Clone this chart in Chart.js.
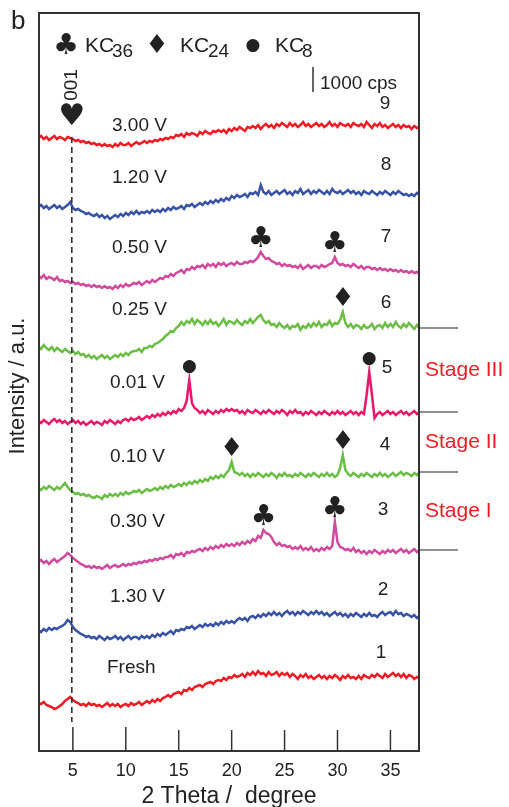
<!DOCTYPE html>
<html>
<head>
<meta charset="utf-8">
<script src="https://cdn.jsdelivr.net/npm/chart.js@4"></script>
<style>
  body { margin: 0; background: #fff; }
  canvas { display: block; }
</style>
</head>
<body>
<canvas id="xrd" width="509" height="807" style="width:509px;height:807px"></canvas>
<script>
// 2 theta grid (degree)
const twoTheta = [1.75,
  2,2.25,2.5,2.75, 3,3.25,3.5,3.75, 4,4.25,4.5,4.75, 5,5.25,5.5,5.75, 6,6.25,6.5,6.75,
  7,7.25,7.5,7.75, 8,8.25,8.5,8.75, 9,9.25,9.5,9.75, 10,10.25,10.5,10.75, 11,11.25,11.5,11.75,
  12,12.25,12.5,12.75, 13,13.25,13.5,13.75, 14,14.25,14.5,14.75, 15,15.25,15.5,15.75, 16,16.25,16.5,16.75,
  17,17.25,17.5,17.75, 18,18.25,18.5,18.75, 19,19.25,19.5,19.75, 20,20.25,20.5,20.75, 21,21.25,21.5,21.75,
  22,22.25,22.5,22.75, 23,23.25,23.5,23.75, 24,24.25,24.5,24.75, 25,25.25,25.5,25.75, 26,26.25,26.5,26.75,
  27,27.25,27.5,27.75, 28,28.25,28.5,28.75, 29,29.25,29.5,29.75, 30,30.25,30.5,30.75, 31,31.25,31.5,31.75,
  32,32.25,32.5,32.75, 33,33.25,33.5,33.75, 34,34.25,34.5,34.75, 35,35.25,35.5,35.75, 36,36.25,36.5,36.75,
  37,37.25,37.5,37.75];

// intensities (a.u., 1 a.u. = 40 cps), each pattern relative to its own baseline
const fresh = [10,
  9,11,8,7, 6,4,5,7, 9,12,14,16, 13,11,10,8, 9,7,10,8, 9,7,8,6, 8,10,7,9, 7,9,6,8,
  9,7,10,8, 9,11,8,10, 12,10,13,11, 14,12,15,16, 18,16,19,20, 21,19,23,22, 25,23,26,27,
  28,26,29,30, 31,29,32,33, 32,35,33,36, 35,38,36,37, 39,36,40,38, 41,38,42,39, 40,37,41,38,
  39,41,37,40, 38,40,36,39, 37,34,38,36, 39,35,37,34, 36,38,35,37, 34,37,35,38, 36,33,37,35,
  38,35,36,34, 37,34,38,36, 35,38,36,39, 37,35,39,36, 38,40,37,39, 36,39,35,38, 37,34,36,35];
const v130 = [13,
  11,14,12,15, 13,15,14,16, 17,19,23,21, 16,13,11,9, 8,6,7,5, 6,4,7,5, 3,6,4,5, 7,4,6,3,
  5,7,4,6, 6,4,7,5, 7,5,8,6, 9,7,10,8, 10,12,9,13, 12,14,13,16, 15,17,14,16, 18,16,19,17,
  19,17,20,18, 21,19,22,20, 22,20,23,25, 23,25,22,26, 27,25,28,26, 29,27,30,28, 31,28,30,27,
  30,32,29,31, 28,31,29,32, 30,28,31,29, 32,29,31,28, 30,27,29,31, 28,30,27,29, 26,29,27,30,
  28,26,29,27, 30,27,28,26, 29,31,28,30, 31,28,32,29, 30,27,29,28, 26,28,25,27];
const v030 = [10,
  12,9,11,8, 11,13,10,12, 14,16,19,17, 14,12,10,8, 7,5,6,4, 6,4,5,3, 5,7,4,6, 7,5,6,8,
  6,8,7,9, 8,10,9,11, 10,12,11,13, 12,14,13,15, 15,17,14,18, 17,19,16,20, 19,21,20,22, 23,21,24,22,
  25,23,26,24, 27,25,28,26, 28,26,29,27, 30,28,31,29, 33,31,36,34, 42,39,38,35, 30,27,29,26,
  27,25,26,23, 25,23,26,22, 24,22,25,21, 23,21,24,22, 25,23,26,50, 30,25,24,22, 23,21,24,20,
  22,19,21,18, 21,19,22,20, 18,21,19,22, 20,22,19,21, 23,20,22,19, 21,23,20,22];
const v010 = [14,
  12,15,13,16, 14,12,15,13, 16,19,15,12, 10,8,9,7, 8,6,7,5, 4,6,5,3, 7,5,8,6, 8,6,9,7,
  10,8,9,11, 10,12,9,11, 13,11,12,14, 12,15,13,16, 14,17,15,16, 18,16,19,17, 20,18,21,19, 22,20,23,21,
  25,23,26,24, 27,25,29,32, 40,30,29,27, 29,26,28,25, 28,26,29,27, 25,28,26,29, 27,24,28,26,
  29,26,27,25, 28,26,29,27, 25,28,26,29, 27,25,28,26, 29,26,28,25, 27,34,47,32, 28,26,29,27,
  25,28,26,29, 27,25,28,26, 29,26,28,25, 27,29,26,28, 30,27,29,28, 26,29,27,30];
const v001 = [6,
  4,7,5,3, 6,8,5,7, 4,6,3,5, 7,4,6,3, 5,2,4,6, 3,5,4,2, 6,4,7,5, 3,6,4,7,
  8,6,9,7, 8,10,7,9, 11,9,12,10, 13,11,14,12, 15,13,16,14, 18,16,19,26, 47,24,19,17, 14,16,13,17,
  15,13,16,14, 17,15,18,16, 18,16,17,14, 16,13,17,15, 14,17,15,13, 16,14,17,15, 13,16,14,17,
  15,12,16,14, 17,14,15,12, 15,13,16,14, 12,15,13,16, 14,12,15,13, 16,13,15,12, 14,16,13,15,
  12,15,13,32, 55,33,9,13, 15,12,14,16, 13,15,12,14, 16,13,15,12, 14,16,13,15];
const v025 = [17,
  14,18,15,13, 16,12,15,13, 11,14,12,10, 12,9,11,8, 9,6,8,5, 7,4,6,8, 5,7,4,6, 8,6,9,7,
  10,8,11,12, 12,14,11,15, 15,17,16,19, 20,22,24,27, 29,32,31,35, 37,41,38,42, 40,44,39,43, 41,38,42,39,
  43,39,41,37, 40,44,38,42, 41,39,43,40, 38,42,40,44, 40,43,46,48, 43,40,42,38, 39,36,40,37,
  35,38,34,37, 36,39,33,37, 35,39,36,40, 37,41,36,39, 38,42,37,40, 39,43,51,40, 36,39,35,38,
  37,34,38,35, 36,39,34,37, 38,35,40,36, 39,36,41,37, 35,39,36,40, 37,34,38,35];
const v050 = [16,
  14,17,13,15, 14,12,15,11, 12,10,11,9, 10,8,9,7, 8,6,7,5, 7,5,6,4, 6,4,5,3, 6,4,7,5,
  8,6,7,9, 8,10,7,9, 11,9,12,10, 12,14,13,16, 15,18,16,19, 20,22,19,23, 22,25,23,26, 25,27,24,28,
  26,28,25,29, 27,29,26,28, 29,27,30,28, 28,30,29,31, 30,32,35,40, 36,33,34,31, 30,28,29,26,
  28,26,27,25, 26,24,27,23, 25,27,24,26, 26,24,27,25, 26,28,29,35, 29,27,28,26, 27,25,28,26,
  24,26,23,25, 25,23,24,22, 24,22,23,21, 23,21,22,20, 22,20,21,19, 21,19,20,18];
const v120 = [15,
  17,14,16,13, 15,17,14,16, 13,15,17,20, 14,12,13,11, 10,8,9,7, 6,8,5,7, 4,6,3,5, 7,5,8,6,
  9,7,10,8, 11,8,10,9, 11,9,12,10, 12,10,13,11, 14,12,15,13, 14,16,13,17, 16,18,15,17, 19,17,20,18,
  21,19,22,20, 23,21,24,22, 26,24,27,25, 26,28,25,29, 28,30,27,37, 30,28,31,27, 29,31,28,30,
  32,28,30,27, 31,29,33,28, 30,32,28,31, 29,32,30,28, 31,28,33,30, 29,31,28,30, 32,29,31,28,
  30,27,31,29, 28,31,29,27, 30,28,31,29, 27,30,28,31, 29,27,28,26, 28,26,29,27];
const v300 = [12,
  14,11,13,10, 12,14,11,13, 12,10,13,12, 11,9,10,8, 9,7,8,6, 7,5,6,4, 6,4,5,3, 6,4,7,5,
  5,7,4,6, 8,6,7,9, 7,9,8,10, 9,11,10,12, 11,13,12,15, 14,16,13,17, 15,17,16,14, 18,16,19,17,
  16,19,18,20, 18,20,17,21, 19,22,20,23, 21,19,23,22, 24,22,25,21, 24,26,23,25, 22,26,24,27,
  25,23,27,24, 26,23,25,28, 24,26,23,25, 27,24,26,23, 25,28,24,26, 23,27,25,24, 26,23,27,25,
  24,26,23,28, 25,22,26,24, 27,23,25,22, 24,26,23,25, 22,25,23,24, 21,24,22,23];

const series = [fresh, v130, v030, v010, v001, v025, v050, v120, v300];
const voltLabels = ['Fresh', '1.30 V', '0.30 V', '0.10 V', '0.01 V', '0.25 V', '0.50 V', '1.20 V', '3.00 V'];
const curveNumbers = ['1', '2', '3', '4', '5', '6', '7', '8', '9'];
const offsets = [38, 108, 179, 249, 324, 388, 459, 529, 601];
const colors = ['#ec1c24', '#3953a4', '#d04a9e', '#6cbd45', '#e8196a', '#6cbd45', '#d04a9e', '#3953a4', '#ec1c24'];
const tickValues = [5, 10, 15, 20, 25, 30, 35];
const ref001 = 4.9;
const scaleBarCps = 1000;
const cpsPerUnit = 40;

// phase reflections: [curve index, 2 theta, symbol]
const peakMarks = [
  [6, 22.75, '\u2663'], [6, 29.75, '\u2663'],
  [5, 30.5, '\u2666'],
  [4, 16, '\u25CF'], [4, 33, '\u25CF'],
  [3, 20, '\u2666'], [3, 30.5, '\u2666'],
  [2, 23, '\u2663'], [2, 29.75, '\u2663']
];
const stages = ['Stage III', 'Stage II', 'Stage I'];
const stageBoundaryCurves = [5, 4, 3, 2];

const FONT = '"Liberation Sans", Arial, sans-serif';
const SYM = '"DejaVu Sans", "Liberation Sans", sans-serif';

// text positions in pixels
const voltPos = [[107, 668], [110, 597], [110, 522], [110, 457], [110, 383], [112, 310], [112, 248], [112, 178], [112, 126]];
const numPos = [[381, 653], [383, 590], [383, 510], [385, 445], [387, 368], [386, 303], [386, 237], [386, 165], [385, 104]];

function line(ctx, x1, y1, x2, y2) {
  ctx.beginPath();
  ctx.moveTo(x1, y1);
  ctx.lineTo(x2, y2);
  ctx.stroke();
}

function valueAt(i, theta) {
  let k = twoTheta.indexOf(theta);
  return series[i][k];
}

function symFont(s) {
  if (s === '\u25CF') return '17px ' + SYM;
  if (s === '\u2666') return '26px ' + SYM;
  return '29px ' + SYM;
}

const annotate = {
  id: 'annotate',
  afterDatasetsDraw(chart) {
    const ctx = chart.ctx;
    const a = chart.chartArea;
    const x = chart.scales.x;
    const y = chart.scales.y;
    ctx.save();

    // frame
    ctx.strokeStyle = '#333';
    ctx.lineWidth = 2;
    ctx.strokeRect(a.left, a.top, a.right - a.left, a.bottom - a.top);

    // inward ticks and labels
    ctx.lineWidth = 1.5;
    ctx.fillStyle = '#222';
    ctx.font = '18px ' + FONT;
    ctx.textAlign = 'center';
    ctx.textBaseline = 'middle';
    tickValues.forEach((v, i) => {
      const px = x.getPixelForValue(v);
      line(ctx, px, a.bottom, px, a.bottom - (i < 2 ? 24 : 21));
      ctx.fillText(String(v), px, 771);
    });

    // axis titles
    ctx.font = '23px ' + FONT;
    ctx.fillText('2 Theta /  degree', 229, 797);
    ctx.save();
    ctx.translate(18, 386);
    ctx.rotate(-Math.PI / 2);
    ctx.font = '22px ' + FONT;
    ctx.fillText('Intensity / a.u.', 0, 0);
    ctx.restore();

    // panel letter
    ctx.font = '26px ' + FONT;
    ctx.textAlign = 'left';
    ctx.fillText('b', 11, 22);

    // 001 reflection line
    const px001 = x.getPixelForValue(ref001);
    ctx.setLineDash([6, 4]);
    ctx.lineWidth = 1.6;
    line(ctx, px001, 137, px001, 722);
    ctx.setLineDash([]);
    ctx.textAlign = 'center';
    ctx.font = '30px ' + SYM;
    ctx.fillText('\u2665', px001, 117);
    ctx.save();
    ctx.translate(px001, 85);
    ctx.rotate(-Math.PI / 2);
    ctx.font = '19px ' + FONT;
    ctx.fillText('001', 0, 0);
    ctx.restore();

    // legend
    const legend = [['\u2663', 66, 'KC', 85, '36', 112], ['\u2666', 157, 'KC', 180, '24', 208], ['\u25CF', 253, 'KC', 275, '8', 302]];
    legend.forEach(l => {
      ctx.textAlign = 'center';
      ctx.textBaseline = 'middle';
      ctx.font = symFont(l[0]);
      ctx.fillText(l[0], l[1], 46);
      ctx.textAlign = 'left';
      ctx.textBaseline = 'alphabetic';
      ctx.font = '21px ' + FONT;
      ctx.fillText(l[2], l[3], 52);
      ctx.font = '19px ' + FONT;
      ctx.fillText(l[4], l[5], 57);
    });

    // scale bar
    const barLen = y.getPixelForValue(0) - y.getPixelForValue(scaleBarCps / cpsPerUnit);
    ctx.lineWidth = 1.5;
    line(ctx, 313, 67, 313, 67 + barLen);
    ctx.font = '19px ' + FONT;
    ctx.fillText(scaleBarCps + ' cps', 320, 89);

    // voltage labels and curve numbers
    ctx.textBaseline = 'middle';
    ctx.font = '19px ' + FONT;
    voltLabels.forEach((t, i) => {
      ctx.textAlign = 'left';
      ctx.fillText(t, voltPos[i][0], voltPos[i][1]);
      ctx.textAlign = 'center';
      ctx.fillText(curveNumbers[i], numPos[i][0], numPos[i][1]);
    });

    // peak markers
    ctx.textAlign = 'center';
    peakMarks.forEach(m => {
      const px = x.getPixelForValue(m[1]);
      const py = y.getPixelForValue(offsets[m[0]] + valueAt(m[0], m[1]));
      ctx.font = symFont(m[2]);
      ctx.fillText(m[2], px, py - 13);
    });

    // stage boundaries
    ctx.strokeStyle = '#222';
    ctx.lineWidth = 1.2;
    const ys = stageBoundaryCurves.map(i => {
      const s = series[i];
      return y.getPixelForValue(offsets[i] + s[s.length - 1]);
    });
    ys.forEach(py => line(ctx, a.right, py, a.right + 39, py));
    ctx.fillStyle = '#ec1c24';
    ctx.font = '21px ' + FONT;
    ctx.textAlign = 'left';
    stages.forEach((t, i) => {
      ctx.fillText(t, a.right + 6, (ys[i] + ys[i + 1]) / 2);
    });

    ctx.restore();
  }
};

const datasets = series.map((s, i) => ({
  label: voltLabels[i],
  data: s.map((v, k) => ({ x: twoTheta[k], y: offsets[i] + v })),
  borderColor: colors[i],
  borderWidth: 2.5,
  pointRadius: 0,
  tension: 0,
  fill: false
}));

new Chart(document.getElementById('xrd'), {
  type: 'line',
  data: { datasets: datasets },
  options: {
    responsive: false,
    devicePixelRatio: 1,
    animation: false,
    parsing: false,
    layout: { padding: { left: 39, right: 90, top: 13, bottom: 56 } },
    plugins: { legend: { display: false }, tooltip: { enabled: false } },
    scales: {
      x: { type: 'linear', min: 1.8, max: 37.7, display: false },
      y: { type: 'linear', min: 0, max: 738, display: false }
    }
  },
  plugins: [annotate]
});
</script>
</body>
</html>
